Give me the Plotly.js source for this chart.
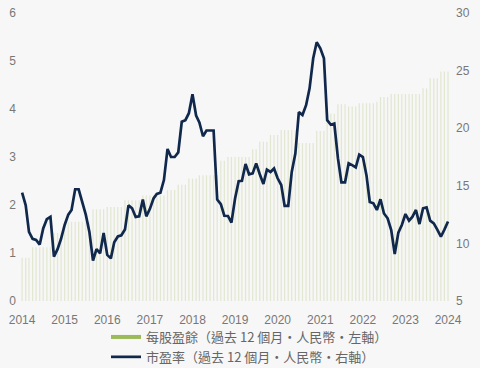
<!DOCTYPE html>
<html lang="zh-TW">
<head>
<meta charset="utf-8">
<script src="https://cdn.plot.ly/plotly-3.0.1.min.js"></script>
<style>
  html, body { margin: 0; padding: 0; background: #f7f7f7; }
  #chart { width: 480px; height: 368px; }
</style>
</head>
<body>
<div id="chart"></div>
<script>
// Monthly series, Jan 2014 .. Jan 2024
const startYear = 2014;
const monthCount = 121;

// 每股盈餘 (EPS, trailing 12m, RMB) – left axis
const eps = [
  0.90, 0.90, 0.90, 1.12, 1.12, 1.12, 1.12, 1.12, 1.12, 1.42,
  1.42, 1.42, 1.65, 1.65, 1.65, 1.65, 1.65, 1.65, 1.65, 1.65,
  1.91, 1.91, 1.91, 1.91, 1.96, 1.96, 1.96, 1.96, 1.96, 2.10,
  2.10, 2.10, 2.10, 2.10, 2.20, 2.20, 2.20, 2.20, 2.20, 2.20,
  2.20, 2.31, 2.31, 2.31, 2.42, 2.42, 2.42, 2.55, 2.55, 2.55,
  2.62, 2.62, 2.62, 2.62, 2.62, 2.62, 2.92, 2.92, 3.00, 3.00,
  3.00, 3.00, 3.00, 3.00, 3.00, 3.16, 3.16, 3.32, 3.32, 3.32,
  3.46, 3.46, 3.46, 3.56, 3.56, 3.56, 3.56, 3.56, 3.29, 3.29,
  3.29, 3.29, 3.29, 3.54, 3.54, 3.54, 3.90, 3.90, 3.90, 4.10,
  4.10, 4.10, 4.05, 4.05, 4.05, 4.12, 4.12, 4.12, 4.12, 4.12,
  4.15, 4.25, 4.25, 4.25, 4.31, 4.31, 4.31, 4.31, 4.31, 4.31,
  4.31, 4.31, 4.31, 4.43, 4.43, 4.64, 4.64, 4.64, 4.78, 4.78,
  4.78
];

// 市盈率 (P/E, trailing 12m) – right axis
const pe = [
  14.4, 13.3, 11.0, 10.4, 10.3, 9.9, 11.3, 12.1, 12.3, 8.85,
  9.5, 10.4, 11.6, 12.5, 12.9, 14.7, 14.7, 13.6, 12.5, 11.0,
  8.5, 9.5, 9.14, 10.9, 9.0, 8.7, 10.1, 10.6, 10.7, 11.2,
  13.3, 13.05, 12.3, 12.35, 13.8, 12.35, 13.0, 13.9, 14.3, 14.4,
  15.5, 18.2, 17.5, 17.5, 17.9, 20.56, 20.7, 21.3, 22.95, 21.1,
  20.5, 19.3, 19.8, 19.8, 19.8, 13.8, 13.4, 12.4, 12.38, 11.8,
  13.9, 15.4, 15.44, 16.9, 16.0, 16.08, 16.95, 16.0, 15.16, 16.4,
  16.2, 16.5, 15.65, 15.07, 13.25, 13.25, 16.2, 17.8, 21.4, 21.15,
  22.0, 23.46, 26.07, 27.46, 26.94, 26.07, 20.7, 20.3, 20.4, 17.4,
  15.3, 15.3, 16.95, 16.8, 16.6, 17.7, 17.5, 15.9, 13.6, 13.48,
  12.9, 13.83, 12.6, 12.18, 11.16, 9.08, 10.93, 11.6, 12.55, 11.97,
  12.3, 12.9, 11.68, 13.05, 13.13, 11.97, 11.74, 11.2, 10.58, 11.2,
  11.9
];

const yearTicks = ['2014','2015','2016','2017','2018','2019','2020','2021','2022','2023','2024'];
const epsName = '每股盈餘（過去 12 個月・人民幣・左軸）';
const peName = '市盈率（過去 12 個月・人民幣・右軸）';

const months = [];
for (let i = 0; i < monthCount; i++) {
  const y = startYear + Math.floor(i / 12);
  const m = (i % 12) + 1;
  months.push(y + '-' + String(m).padStart(2, '0') + '-01');
}
const tickVals = yearTicks.map(y => y + '-01-01');

const green = '#9bbb59';
const navy = '#11284d';

const traces = [
  {
    type: 'bar', x: months, y: eps, yaxis: 'y',
    marker: { color: '#e2e7d1', line: { width: 0 } },
    showlegend: false, hoverinfo: 'x+y'
  },
  {
    type: 'scatter', mode: 'lines', x: [null], y: [null], yaxis: 'y',
    name: epsName, line: { color: green, width: 4 }, showlegend: true
  },
  {
    type: 'scatter', mode: 'lines', x: months, y: pe, yaxis: 'y2',
    name: peName, line: { color: navy, width: 2.7 }, showlegend: true
  }
];

const tickFont = { family: 'Liberation Sans, Arial, sans-serif', size: 12, color: '#777777' };

const layout = {
  width: 480, height: 368,
  margin: { l: 20, r: 30, t: 13, b: 67, pad: 0 },
  paper_bgcolor: '#f7f7f7',
  plot_bgcolor: '#f7f7f7',
  bargap: 0.62,
  showlegend: true,
  xaxis: {
    type: 'date',
    range: ['2013-12-14', '2024-01-18'],
    tickvals: tickVals, ticktext: yearTicks,
    showgrid: false, zeroline: false, showline: false,
    ticks: '', tickfont: tickFont, ticklabelstandoff: 10
  },
  yaxis: {
    range: [0, 6], dtick: 1, tick0: 0,
    showgrid: false, zeroline: false, showline: false,
    ticks: '', tickfont: tickFont, ticklabelstandoff: 3
  },
  yaxis2: {
    range: [5, 30], dtick: 5, tick0: 5,
    overlaying: 'y', side: 'right',
    showgrid: false, zeroline: false, showline: false,
    ticks: '', tickfont: tickFont, ticklabelstandoff: 5
  },
  legend: {
    orientation: 'v',
    x: 0.2, xanchor: 'left', xref: 'paper',
    y: 0.125, yanchor: 'top', yref: 'container',
    bgcolor: 'rgba(0,0,0,0)',
    font: { family: 'Noto Sans CJK TC, Liberation Sans, sans-serif', size: 13, color: '#666666' },
    tracegroupgap: 0
  }
};

Plotly.newPlot('chart', traces, layout, { displayModeBar: false, staticPlot: true });
</script>
</body>
</html>
